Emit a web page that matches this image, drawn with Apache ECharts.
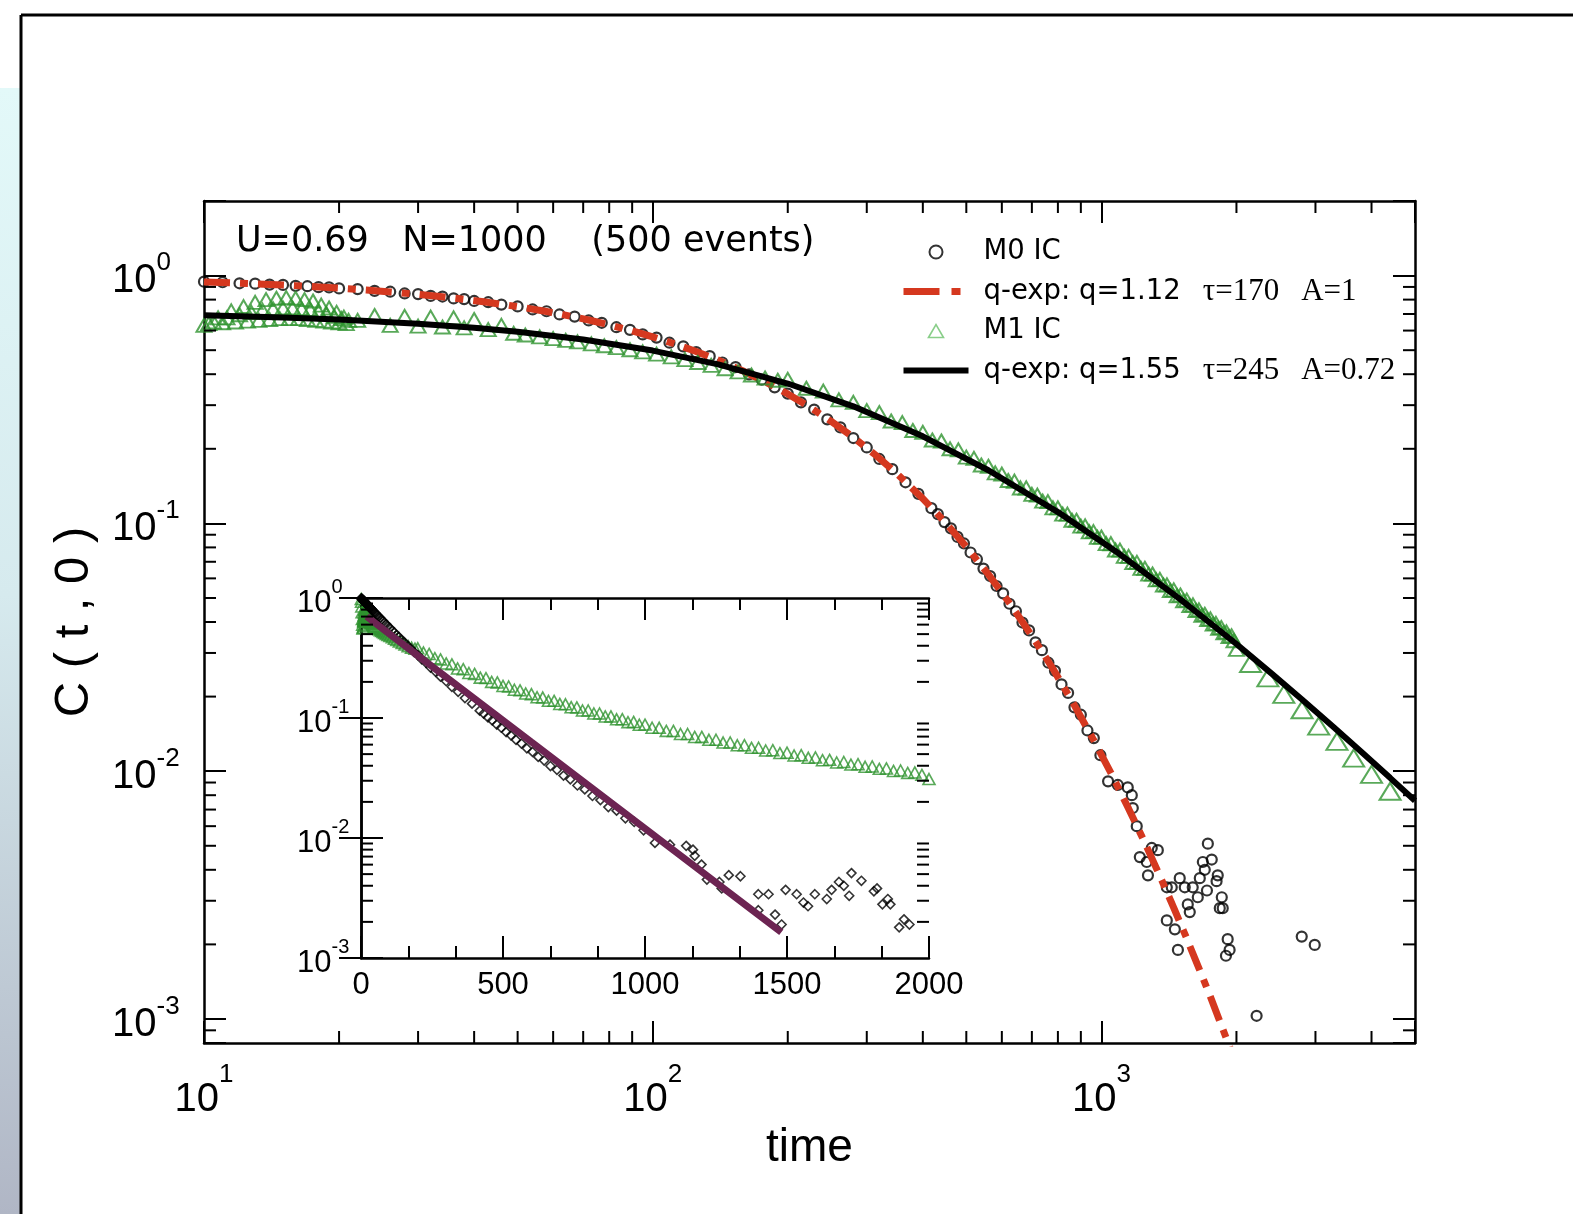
<!DOCTYPE html>
<html><head><meta charset="utf-8">
<script src="https://cdn.jsdelivr.net/npm/echarts@6/dist/echarts.min.js"></script>
<style>html,body{margin:0;padding:0;background:#fff}#c{width:1573px;height:1214px}</style>
</head><body><div id="c"></div>
<script>
// ---------- data ----------
const m0Time = [1,2,3,4,5,6,7,8,9,
  10,11,12,13,14,15,16,17,18,19,20,22,24,26,28,30,32,34,36,38,40,
  43,46,50,54,58,62,67,72,77,83,89,95,102,109,117,125,134,143,153,164,175,187,
  200,214,229,245,262,280,300,320,342,366,391,418,432,447,462,478,494,511,528,546,565,584,604,624,645,667,690,713,737,762,788,815,843,871,900,931,962,995,
  1035,1088,1145,1169,1175,1199,1218,1262,1270,1295,1336,1399,1399,1435,1458,1481,1495,1534,1558,1574,1598,1640,1657,1683,1700,1719,1727,1762,1806,1817,1836,1855,1864,1895,1912,1931,2218,2796,2989];
const m0Value = [0.994,0.988,0.982,0.977,0.971,0.965,0.96,0.954,0.948,
  0.945,0.94,0.931,0.928,0.92,0.917,0.909,0.906,0.898,0.896,0.888,0.882,0.868,0.861,0.847,0.842,0.828,0.823,0.809,0.804,0.79,
  0.781,0.764,0.751,0.73,0.718,0.697,0.683,0.659,0.645,0.619,0.604,0.579,0.562,0.536,0.518,0.491,0.473,0.446,0.427,0.399,0.38,0.354,
  0.334,0.308,0.288,0.263,0.244,0.221,0.2025,0.182,0.1655,0.1465,0.1316,0.1152,0.109,0.1012,0.0955,0.0882,0.083,0.0763,0.0717,0.0657,0.0613,0.0559,0.0522,0.0474,0.0442,0.0398,0.037,0.0331,0.0308,0.0274,0.0254,0.0224,0.0207,0.0181,0.0169,0.0146,0.0136,0.0116,
  0.0091,0.0088,0.0086,0.0080,0.0071,0.0060,0.0045,0.0043,0.0038,0.0049,0.0048,0.0034,0.0025,0.0034,0.0023,0.0019,0.0037,0.0034,0.0029,0.0027,0.0034,0.0031,0.0037,0.0043,0.0040,0.0033,0.0051,0.0044,0.0036,0.0038,0.0028,0.0031,0.0028,0.0018,0.0021,0.0019,0.00103,0.00215,0.00199];

const m1Time = [1,2,3,4,5,6,7,8,9,
  10,10.25,10.5,10.75,11,11.25,11.5,11.75,12,12.25,12.5,12.75,13,13.25,13.5,13.75,14,14.25,14.5,14.75,15,15.25,15.5,15.75,16,16.25,16.5,16.75,17,17.25,17.5,17.75,18,18.25,18.5,18.75,19,19.25,19.5,19.75,20,20.25,20.5,20.75,21,
  22,24,26,28,30,32,34,36,38,40,43,46,
  49,52,56,60,64,68,73,78,83,89,95,102,110,118,126,135,145,155,166,178,190,
  200,220,240,260,280,300,320,340,360,380,400,420,440,460,480,500,520,540,560,580,600,620,640,660,680,700,720,740,760,780,800,820,840,860,880,900,920,940,960,980,1000,
  1025,1050,1075,1100,1125,1150,1175,1200,1225,1250,1275,1300,1325,1350,1375,1400,1425,1450,1475,1500,1525,1550,1575,1600,1625,1650,1675,1700,1725,1750,1775,1800,1825,1850,1875,1900,1925,1950,1975,2000,
  2150,2350,2550,2800,3050,3350,3650,4000,4400,4850];
const m1Value = [0.98,0.93,0.85,0.76,0.67,0.6,0.56,0.56,0.58,
  0.63,0.64,0.65,0.675,0.645,0.675,0.72,0.65,0.695,0.75,0.655,0.71,0.78,0.66,0.725,0.80,0.665,0.735,0.81,0.67,0.74,0.815,0.67,0.74,0.81,0.67,0.735,0.80,0.665,0.73,0.79,0.66,0.715,0.76,0.655,0.70,0.74,0.65,0.685,0.71,0.645,0.67,0.68,0.64,0.66,
  0.66,0.69,0.63,0.685,0.625,0.68,0.62,0.675,0.615,0.665,0.605,0.63,
  0.585,0.576,0.566,0.557,0.548,0.540,0.530,0.521,0.512,0.502,0.492,0.482,0.470,0.458,0.446,0.434,0.421,0.409,0.397,0.386,0.378,
  0.381,0.351,0.342,0.315,0.308,0.285,0.280,0.259,0.255,0.237,0.233,0.217,0.215,0.200,0.198,0.185,0.183,0.172,0.170,0.160,0.158,0.149,0.148,0.139,0.139,0.131,0.130,0.123,0.1225,0.1155,0.1155,0.109,0.109,0.103,0.103,0.0975,0.0977,0.0924,0.0927,0.0878,0.0881,
  0.0829,0.0828,0.0781,0.0780,0.0736,0.0736,0.0695,0.0696,0.0658,0.0659,0.0624,0.0625,0.0592,0.0594,0.0564,0.0565,0.0536,0.0539,0.0510,0.0514,0.0487,0.0490,0.0466,0.0469,0.0445,0.0448,0.0426,0.0430,0.0409,0.0412,0.0392,0.0395,0.0377,0.0380,0.0362,0.0365,0.0349,0.0352,0.0336,
  0.0310,0.0272,0.0238,0.0204,0.0177,0.0152,0.0132,0.0113,0.0097,0.0083];

const fit1Time = [10,12,14,16,18,20,23,26,30,34,38,42,47,52,58,65,72,80,90,100,112,125,140,160,180,200,225,250,280,315,350,400,450,500,560,630,700,780,870,960,1050,1150,1250,1350,1450,1550,1650,1750,1850,1950];
const fit1Value = [0.943,0.932,0.921,0.911,0.900,0.890,0.874,0.859,0.840,0.821,0.802,0.784,0.762,0.741,0.716,0.688,0.662,0.633,0.599,0.566,0.530,0.494,0.456,0.410,0.369,0.333,0.293,0.258,0.2225,0.1877,0.1588,0.1259,0.1004,0.0805,0.0623,0.0466,0.0352,0.0259,0.0185,0.01341,0.00984,0.00706,0.00514,0.00378,0.00281,0.00211,0.00160,0.00123,0.000944,0.000736];

const fit2Time = [10,15,20,30,40,50,70,100,140,200,280,400,560,800,1100,1500,2000,2400,2800,3300,3800,4400,5000];
const fit2Value = [0.6915,0.678,0.6648,0.6397,0.6159,0.5934,0.5522,0.4982,0.4381,0.3668,0.2967,0.2246,0.1639,0.1111,0.0750,0.0494,0.0326,0.0247,0.01947,0.0150,0.01195,0.0094,0.0076];

const expTime = [20,200,400,600,800,1000,1200,1400,1480];
const expValue = [0.70,0.331,0.1445,0.0630,0.0275,0.0120,0.00523,0.00228,0.00164];

const mainXMinorTicks = [20,30,40,50,60,70,80,90,200,300,400,500,600,700,800,900,2000,3000,4000];
const mainYMinorTicks = [0.0009,0.002,0.003,0.004,0.005,0.006,0.007,0.008,0.009,0.02,0.03,0.04,0.05,0.06,0.07,0.08,0.09,0.2,0.3,0.4,0.5,0.6,0.7,0.8,0.9];
const insetYMinorTicks = [0.002,0.003,0.004,0.005,0.006,0.007,0.008,0.009,0.02,0.03,0.04,0.05,0.06,0.07,0.08,0.09,0.2,0.3,0.4,0.5,0.6,0.7,0.8,0.9];

const legendNames = ['M0 IC', 'q-exp: q=1.12', 'M1 IC', 'q-exp: q=1.55'];
const expName = 'exp';

// ---------- helpers ----------
const SANS = 'Liberation Sans, Arial, sans-serif';
const WIDE = 'DejaVu Sans, sans-serif';
const SERIF = 'Liberation Serif, Times New Roman, serif';
const GREEN = '#2f942f';
function pow10Label(v) {
  const e = Math.log10(v), r = Math.round(e);
  if (Math.abs(e - r) > 1e-6) return '';
  return '{b|10}{s|' + r + '}';
}
function zip(a, b) { return a.map((x, i) => [x, b[i]]); }
function minorTicks(kind, xi, yi, vals, fixed, len) {
  return {
    type: 'custom', xAxisIndex: xi, yAxisIndex: yi, silent: true, z: 10, clip: false,
    data: vals.map(v => kind === 'x' ? [v, fixed] : [fixed, v]),
    renderItem: function (params, api) {
      const cs = params.coordSys;
      const p = api.coord([api.value(0), api.value(1)]);
      const st = { stroke: '#000', lineWidth: 2 };
      if (kind === 'x') {
        const x = p[0], top = cs.y, bot = cs.y + cs.height;
        return { type: 'group', children: [
          { type: 'line', shape: { x1: x, y1: bot, x2: x, y2: bot - len }, style: st },
          { type: 'line', shape: { x1: x, y1: top, x2: x, y2: top + len }, style: st }] };
      }
      const y = p[1], l = cs.x, r = cs.x + cs.width;
      return { type: 'group', children: [
        { type: 'line', shape: { x1: l, y1: y, x2: l + len, y2: y }, style: st },
        { type: 'line', shape: { x1: r, y1: y, x2: r - len, y2: y }, style: st }] };
    }
  };
}
const axLine = { show: true, lineStyle: { color: '#000', width: 2.5 } };
const majTick = { show: true, inside: true, length: 22, lineStyle: { color: '#000', width: 2 } };

const yRich = {
  b: { fontFamily: SANS, fontSize: 40, color: '#000', lineHeight: 51, verticalAlign: 'bottom' },
  s: { fontFamily: SANS, fontSize: 26, color: '#000', lineHeight: 26, verticalAlign: 'top' }
};
const xRich = {
  b: { fontFamily: SANS, fontSize: 40, color: '#000', lineHeight: 58, verticalAlign: 'bottom' },
  s: { fontFamily: SANS, fontSize: 26, color: '#000', lineHeight: 26, verticalAlign: 'top' }
};
const insetRich = {
  b: { fontFamily: SANS, fontSize: 31, color: '#000', lineHeight: 42, verticalAlign: 'bottom' },
  s: { fontFamily: SANS, fontSize: 20, color: '#000', lineHeight: 20, verticalAlign: 'top' }
};

const chart = echarts.init(document.getElementById('c'), null, { renderer: 'canvas' });
chart.setOption({
  animation: false,
  backgroundColor: '#fff',
  title: {
    text: 'U=0.69   N=1000    (500 events)', left: 231, top: 219,
    textStyle: { fontFamily: WIDE, fontSize: 35, fontWeight: 'normal', color: '#000' }
  },
  graphic: [
    { type: 'rect', shape: { x: 0, y: 88, width: 21, height: 1126 }, silent: true,
      style: { fill: new echarts.graphic.LinearGradient(0, 0, 0, 1, [
        { offset: 0, color: '#e3f9f9' }, { offset: 0.45, color: '#d6eaee' }, { offset: 1, color: '#b0b6c5' }]) } },
    { type: 'line', shape: { x1: 21, y1: 15, x2: 1573, y2: 15 }, style: { stroke: '#000', lineWidth: 3 }, silent: true },
    { type: 'line', shape: { x1: 21, y1: 15, x2: 21, y2: 1214 }, style: { stroke: '#000', lineWidth: 3 }, silent: true }
  ],
  legend: [{
    data: [
      { name: legendNames[0] },
      { name: legendNames[1], itemStyle: { opacity: 0 }, lineStyle: { width: 7, type: [36, 12, 9, 30] } },
      { name: legendNames[2], icon: 'path://M0,13L7.5,0L15,13Z',
        itemStyle: { color: 'rgba(255,255,255,0)', borderColor: '#6cc26c', borderWidth: 1.6 } },
      { name: legendNames[3], itemStyle: { opacity: 0 }, lineStyle: { width: 6 } }
    ],
    orient: 'vertical', left: 895, top: 233, symbolKeepAspect: true,
    itemWidth: 65, itemHeight: 13, itemGap: 10, selectedMode: false,
    formatter: function (n) {
      if (n === 'q-exp: q=1.12') return '{a|q-exp: q=1.12}{t|τ=170}{t|A=1}';
      if (n === 'q-exp: q=1.55') return '{a|q-exp: q=1.55}{t|τ=245}{t|A=0.72}';
      return '{a|' + n + '}';
    },
    textStyle: { fontFamily: WIDE, fontSize: 28, color: '#000', lineHeight: 28,
      rich: { a: { fontFamily: WIDE, fontSize: 27.5, color: '#000', padding: [0, 0, 0, 10] },
              t: { fontFamily: SERIF, fontSize: 31, color: '#000', padding: [0, 0, 0, 22] } } }
  }, {
    data: [{ name: expName, itemStyle: { opacity: 0 }, lineStyle: { width: 7 } }],
    orient: 'vertical', left: 385, top: 876,
    itemWidth: 52, itemHeight: 14, selectedMode: false,
    formatter: function () { return '{e|e}{s|-x/T}{t|T=241}'; },
    textStyle: { fontFamily: SANS, fontSize: 34, color: '#000', lineHeight: 44,
      rich: { e: { fontFamily: SANS, fontSize: 34, color: '#000', lineHeight: 44, verticalAlign: 'bottom', padding: [0, 0, 0, 16] },
              s: { fontFamily: SANS, fontSize: 21, color: '#000', lineHeight: 21, verticalAlign: 'top' },
              t: { fontFamily: SANS, fontSize: 34, color: '#000', lineHeight: 44, verticalAlign: 'bottom', padding: [0, 0, 0, 42] } } }
  }],
  grid: [
    { left: 204, top: 201, width: 1211, height: 842, show: false },
    { left: 361, top: 598, width: 568, height: 360, show: true, backgroundColor: '#fff', borderWidth: 0, z: 5 }
  ],
  xAxis: [
    { type: 'log', logBase: 10, min: 10, max: 5000, gridIndex: 0, position: 'bottom',
      axisLine: axLine, axisTick: majTick, splitLine: { show: false },
      axisLabel: { formatter: pow10Label, margin: 19, rich: xRich },
      name: 'time', nameLocation: 'middle', nameGap: 72,
      nameTextStyle: { fontFamily: SANS, fontSize: 46, color: '#000', verticalAlign: 'top' } },
    { type: 'log', logBase: 10, min: 10, max: 5000, gridIndex: 0, position: 'top',
      axisLine: axLine, axisTick: majTick, axisLabel: { show: false }, splitLine: { show: false } },
    { type: 'value', min: 0, max: 2000, interval: 500, gridIndex: 1, position: 'bottom', z: 6,
      axisLine: axLine, axisTick: majTick, splitLine: { show: false },
      minorTick: { show: true, splitNumber: 3, length: 12, lineStyle: { color: '#000', width: 2 } },
      axisLabel: { fontFamily: SANS, fontSize: 31, color: '#000', margin: 12, formatter: v => String(v) } },
    { type: 'value', min: 0, max: 2000, interval: 500, gridIndex: 1, position: 'top', z: 6,
      axisLine: axLine, axisTick: majTick, splitLine: { show: false }, axisLabel: { show: false },
      minorTick: { show: true, splitNumber: 3, length: 12, lineStyle: { color: '#000', width: 2 } } }
  ],
  yAxis: [
    { type: 'log', logBase: 10, min: 0.0008, max: 2, gridIndex: 0, position: 'left',
      axisLine: axLine, axisTick: majTick, splitLine: { show: false },
      axisLabel: { formatter: pow10Label, align: 'left', margin: 92, rich: yRich },
      name: 'C ( t , 0 )', nameLocation: 'middle', nameRotate: 90, nameGap: 105,
      nameTextStyle: { fontFamily: SANS, fontSize: 49, color: '#000' } },
    { type: 'log', logBase: 10, min: 0.0008, max: 2, gridIndex: 0, position: 'right',
      axisLine: axLine, axisTick: majTick, axisLabel: { show: false }, splitLine: { show: false } },
    { type: 'log', logBase: 10, min: 0.001, max: 1, gridIndex: 1, position: 'left', z: 6,
      axisLine: axLine, axisTick: majTick, splitLine: { show: false },
      axisLabel: { formatter: pow10Label, align: 'left', margin: 64, rich: insetRich } },
    { type: 'log', logBase: 10, min: 0.001, max: 1, gridIndex: 1, position: 'right', z: 6,
      axisLine: axLine, axisTick: majTick, axisLabel: { show: false }, splitLine: { show: false } }
  ],
  series: [
    { name: 'M0 IC', type: 'scatter', xAxisIndex: 0, yAxisIndex: 0, z: 2, clip: true,
      symbol: 'circle', symbolSize: 10, data: zip(m0Time, m0Value),
      itemStyle: { color: 'rgba(255,255,255,0)', borderColor: '#000', borderWidth: 2.2 } },
    { name: 'q-exp: q=1.12', type: 'line', xAxisIndex: 0, yAxisIndex: 0, z: 3, clip: true,
      symbol: 'none', data: zip(fit1Time, fit1Value),
      lineStyle: { color: '#d5381f', width: 7, type: [26, 10, 8, 10] }, itemStyle: { color: '#d5381f' } },
    { name: 'M1 IC', type: 'scatter', xAxisIndex: 0, yAxisIndex: 0, z: 3, clip: true,
      symbol: 'triangle',
      symbolSize: function (v) { return v[0] > 2050 ? [21, 17] : [15, 13]; },
      data: zip(m1Time, m1Value),
      itemStyle: { color: 'rgba(255,255,255,0)', borderColor: GREEN, borderWidth: 2 } },
    { name: 'q-exp: q=1.55', type: 'line', xAxisIndex: 0, yAxisIndex: 0, z: 4, clip: true,
      symbol: 'none', data: zip(fit2Time, fit2Value),
      lineStyle: { color: '#000', width: 6 }, itemStyle: { color: '#000' } },
    { name: 'M1 inset', type: 'scatter', xAxisIndex: 2, yAxisIndex: 2, z: 6, clip: true,
      symbol: 'triangle', symbolSize: [12, 11], data: zip(m1Time, m1Value),
      itemStyle: { color: 'rgba(255,255,255,0)', borderColor: GREEN, borderWidth: 1.6 } },
    { name: 'M0 inset', type: 'scatter', xAxisIndex: 2, yAxisIndex: 2, z: 6, clip: true,
      symbol: 'diamond', symbolSize: 9, data: zip(m0Time, m0Value),
      itemStyle: { color: 'rgba(255,255,255,0)', borderColor: '#000', borderWidth: 1.6 } },
    { name: expName, type: 'line', xAxisIndex: 2, yAxisIndex: 2, z: 7, clip: true,
      symbol: 'none', data: zip(expTime, expValue),
      lineStyle: { color: '#6c2452', width: 7 }, itemStyle: { color: '#6c2452' } },
    minorTicks('x', 0, 0, mainXMinorTicks, 0.01, 12),
    minorTicks('y', 0, 0, mainYMinorTicks, 100, 12),
    Object.assign(minorTicks('y', 2, 2, insetYMinorTicks, 1000, 12), { z: 8 })
  ]
});
</script>
</body></html>
